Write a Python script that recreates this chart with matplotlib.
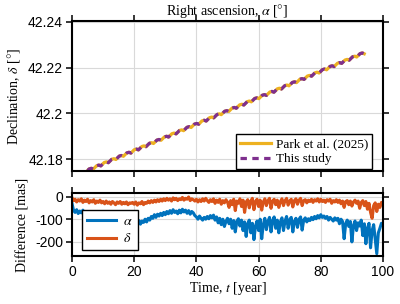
import matplotlib
matplotlib.use("Agg")
import matplotlib.pyplot as plt
from matplotlib.ticker import FuncFormatter

plt.rcParams['axes.unicode_minus'] = False
plt.rcParams['mathtext.fontset'] = 'stix'

# ---------------- data ----------------
# Top panel: sky track (right ascension offset, declination)
ra_track = [
    2.00, 3.09, 3.82, 4.42, 5.51, 6.24, 6.84, 7.93, 8.66, 9.26, 10.35, 11.08,
    11.68, 12.77, 13.50, 14.10, 15.19, 15.92, 16.52, 17.61, 18.34, 18.94, 20.03, 20.76,
    21.36, 22.45, 23.18, 23.78, 24.87, 25.60, 26.20, 27.29, 28.02, 28.62, 29.71, 30.44,
    31.04, 32.13, 32.86, 33.46, 34.55, 35.28, 35.88, 36.97, 37.70, 38.30, 39.39, 40.12,
    40.72, 41.81, 42.54, 43.14, 44.23, 44.96, 45.56, 46.65, 47.38, 47.98, 49.07, 49.80,
    50.40, 51.49, 52.22, 52.82, 53.91, 54.64, 55.24, 56.33, 57.06, 57.66, 58.75, 59.48,
    60.08, 61.17, 61.90, 62.50, 63.59, 64.32, 64.92, 66.01, 66.74, 67.34, 68.43, 69.16,
    69.76, 70.85, 71.58, 72.18, 73.27, 74.00, 74.60, 75.69, 76.42, 77.02, 78.11, 78.84,
    79.44, 80.53, 81.26, 81.86, 82.95, 83.68, 84.28, 85.37, 86.10, 86.70, 87.79, 88.52,
    89.12, 90.21, 90.94, 91.54, 92.63, 93.36, 93.96]
dec_track = [
    42.17282, 42.17430, 42.17459, 42.17422, 42.17570, 42.17599, 42.17562, 42.17710, 42.17739,
    42.17702, 42.17850, 42.17879, 42.17842, 42.17990, 42.18019, 42.17982, 42.18130, 42.18159,
    42.18122, 42.18270, 42.18299, 42.18262, 42.18410, 42.18439, 42.18402, 42.18550, 42.18579,
    42.18542, 42.18690, 42.18719, 42.18682, 42.18830, 42.18859, 42.18822, 42.18970, 42.18999,
    42.18962, 42.19110, 42.19139, 42.19102, 42.19250, 42.19279, 42.19242, 42.19390, 42.19419,
    42.19382, 42.19530, 42.19559, 42.19522, 42.19670, 42.19699, 42.19662, 42.19810, 42.19839,
    42.19802, 42.19950, 42.19979, 42.19942, 42.20090, 42.20119, 42.20082, 42.20230, 42.20259,
    42.20222, 42.20370, 42.20399, 42.20362, 42.20510, 42.20539, 42.20502, 42.20650, 42.20679,
    42.20642, 42.20790, 42.20819, 42.20782, 42.20930, 42.20959, 42.20922, 42.21070, 42.21099,
    42.21062, 42.21210, 42.21239, 42.21202, 42.21350, 42.21379, 42.21342, 42.21490, 42.21519,
    42.21482, 42.21630, 42.21659, 42.21622, 42.21770, 42.21799, 42.21762, 42.21910, 42.21939,
    42.21902, 42.22050, 42.22079, 42.22042, 42.22190, 42.22219, 42.22182, 42.22330, 42.22359,
    42.22322, 42.22470, 42.22499, 42.22462, 42.22610, 42.22639, 42.22602]
dec_park = dec_track
dec_study = dec_track

# Bottom panel: differences [mas] sampled every 0.5 year from t = 0 to 100
time_years = [0.5 * i for i in range(201)]
diff_alpha = [
    -30, -62, -70, -58, -75, -64, -72, -60, -78, -66,
    -70, -84, -68, -80, -72, -86, -74, -90, -78, -84,
    -92, -80, -96, -86, -100, -88, -94, -104, -90, -98,
    -86, -100, -92, -106, -94, -102, -96, -108, -98, -104,
    -110, -100, -118, -106, -122, -108, -114, -100, -112, -96,
    -104, -88, -96, -80, -92, -78, -86, -74, -84, -70,
    -80, -66, -76, -62, -74, -58, -70, -64, -76, -60,
    -72, -56, -68, -60, -74, -62, -78, -66, -72, -84,
    -90, -100, -86, -96, -104, -92, -100, -88, -98, -84,
    -94, -82, -104, -90, -116, -96, -124, -100, -132, -110,
    -96, -120, -100, -140, -106, -156, -110, -98, -130, -104,
    -150, -112, -176, -120, -104, -160, -118, -190, -130, -108,
    -150, -100, -186, -124, -96, -146, -110, -92, -156, -106,
    -90, -140, -104, -160, -112, -94, -150, -108, -88, -140,
    -102, -92, -156, -110, -96, -136, -100, -90, -148, -104,
    -94, -112, -98, -106, -92, -102, -88, -98, -84, -94,
    -80, -92, -86, -96, -88, -104, -92, -100, -108, -94,
    -104, -96, -120, -100, -110, -186, -120, -104, -132, -110,
    -200, -128, -108, -150, -116, -130, -104, -172, -120, -208,
    -140, -118, -226, -150, -124, -190, -252, -160, -140, -118,
    -124]
diff_delta = [
    -5, -18, -12, -24, -14, -20, -10, -26, -16, -22,
    -12, -28, -18, -24, -14, -30, -20, -26, -16, -28,
    -22, -32, -20, -30, -24, -34, -22, -28, -36, -24,
    -30, -22, -34, -26, -32, -24, -36, -28, -30, -26,
    -34, -24, -38, -28, -32, -22, -36, -26, -30, -20,
    -28, -18, -26, -16, -24, -14, -22, -12, -20, -10,
    -18, -8, -16, -10, -20, -6, -14, -8, -18, -10,
    -14, -4, -16, -8, -12, -2, -18, -10, -14, -20,
    -12, -24, -14, -22, -10, -20, -8, -18, -26, -14,
    -22, -10, -30, -16, -26, -12, -34, -18, -28, -14,
    -24, -48, -18, -36, -12, -62, -20, -30, -10, -44,
    -16, -70, -24, -14, -50, -20, -8, -58, -22, -12,
    -44, -16, -60, -24, -10, -40, -18, -8, -52, -20,
    -12, -36, -16, -48, -22, -10, -40, -18, -8, -38,
    -20, -12, -46, -18, -10, -34, -16, -8, -40, -18,
    -14, -28, -16, -22, -12, -26, -14, -20, -10, -24,
    -12, -22, -16, -26, -14, -20, -12, -30, -18, -24,
    -14, -26, -16, -32, -20, -48, -22, -18, -36, -20,
    -42, -24, -16, -30, -20, -52, -26, -18, -40, -22,
    -56, -30, -70, -96, -40, -28, -66, -34, -48, -26,
    -30]

top_yticks = [42.18, 42.20, 42.22, 42.24]
bottom_yticks = [0, -100, -200]
time_ticks = [0, 20, 40, 60, 80, 100]
ra_ticks = [0, 20, 40, 60, 80, 100]

# ---------------- style ----------------
C_YEL = '#EDB120'
C_PUR = '#7E2F8E'
C_BLU = '#0072BD'
C_RED = '#D95319'
SERIF = 'Liberation Serif'
SANS = 'Liberation Sans'
TICK_FS = 10
LAB_FS = 10

fig = plt.figure(figsize=(4.0, 3.04), dpi=100)
ax1 = fig.add_axes([0.18, 0.4375, 0.7775, 0.493])
ax2 = fig.add_axes([0.18, 0.158, 0.7775, 0.206])


def style_axes(ax):
    for s in ax.spines.values():
        s.set_linewidth(1.5)
        s.set_color('black')
    ax.tick_params(direction='out', length=4.5, width=1.1, top=True, right=True,
                   labelsize=TICK_FS, pad=2)
    ax.grid(True, color='#d9d9d9', linewidth=0.8)
    ax.set_axisbelow(True)
    for lab in ax.get_xticklabels() + ax.get_yticklabels():
        lab.set_family(SANS)


# Top panel
ax1.plot(ra_track, dec_park, color=C_YEL, lw=2.3, label='Park et al. (2025)')
ax1.plot(ra_track, dec_study, color=C_PUR, lw=2.3, linestyle=(0, (2.0, 1.7)),
         label='This study')
ax1.set_xlim(0, 100)
ax1.set_ylim(42.1748, 42.2403)
ax1.set_xticks(ra_ticks)
ax1.set_yticks(top_yticks)
ax1.yaxis.set_major_formatter(FuncFormatter(lambda v, p: '%g' % round(v, 4)))
ax1.tick_params(labelbottom=False, labeltop=False)
style_axes(ax1)
ax1.xaxis.set_label_position('top')
ax1.set_xlabel(r'Right ascension, $\alpha$ [$\degree$]', family=SERIF,
               fontsize=LAB_FS, labelpad=0)
ax1.set_ylabel(r'Declination, $\delta$ [$\degree$]', family=SERIF,
               fontsize=LAB_FS, labelpad=4)
leg1 = ax1.legend(loc='lower right', prop={'family': SERIF, 'size': 9.5},
                  frameon=True, fancybox=False, edgecolor='black',
                  handlelength=2.3, borderaxespad=0.0, labelspacing=0.2,
                  borderpad=0.3, handletextpad=0.4,
                  bbox_to_anchor=(0.965, 0.012))
leg1.get_frame().set_linewidth(1.0)
leg1.get_frame().set_alpha(1)

# Bottom panel
ax2.plot(time_years, diff_alpha, color=C_BLU, lw=2.2, label=r'$\alpha$')
ax2.plot(time_years, diff_delta, color=C_RED, lw=2.2, label=r'$\delta$')
ax2.set_xlim(0, 100)
ax2.set_ylim(-262, 14)
ax2.set_xticks(time_ticks)
ax2.set_yticks(bottom_yticks)
style_axes(ax2)
ax2.set_xlabel(r'Time, $t$ [year]', family=SERIF, fontsize=LAB_FS, labelpad=1)
ax2.set_ylabel('Difference [mas]', family=SERIF, fontsize=LAB_FS, labelpad=4)
leg2 = ax2.legend(loc='lower left', prop={'family': SERIF, 'size': 10},
                  frameon=True, fancybox=False, edgecolor='black',
                  handlelength=2.1, borderaxespad=0.0, labelspacing=0.3,
                  borderpad=0.35, handletextpad=0.5,
                  bbox_to_anchor=(0.033, 0.09))
leg2.get_frame().set_linewidth(1.0)
leg2.get_frame().set_alpha(1)

fig.align_ylabels([ax1, ax2])
fig.savefig('out.png', dpi=100)
